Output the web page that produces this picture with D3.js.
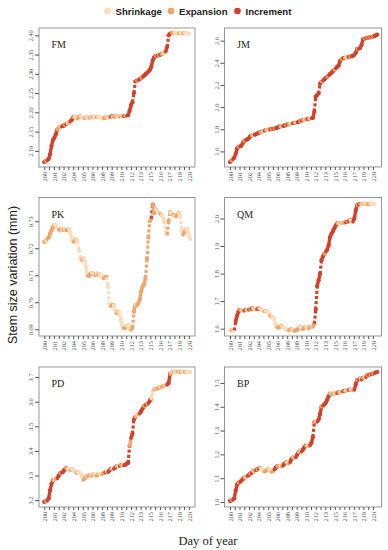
<!DOCTYPE html>
<html><head><meta charset="utf-8">
<script src="https://cdn.jsdelivr.net/npm/d3@7/dist/d3.min.js"></script>
<style>body{margin:0;background:#fff}</style>
</head><body><svg id="c" width="388" height="550"></svg>
<script>
// ---- data ----
const phaseNames = ["Shrinkage","Expansion","Increment"];
const phaseCodes = ["S","E","I"];
const tickLabels = ["200","201","202","204","205","206","208","209","210","212","213","215","216","217","219","220"];
const days = d3.range(104).map(i => 200 + i * 0.2); // sampling times (day of year)

const fmValues = [2.071,2.073,2.075,2.079,2.091,2.113,2.128,2.134,2.143,2.155,
 2.161,2.163,2.163,2.164,2.167,2.169,2.171,2.172,2.177,2.180,
 2.187,2.189,2.185,2.184,2.188,2.190,2.186,2.184,2.185,2.187,
 2.187,2.186,2.187,2.188,2.189,2.188,2.187,2.188,2.189,2.187,
 2.185,2.184,2.186,2.188,2.186,2.187,2.189,2.190,2.188,2.189,
 2.190,2.188,2.189,2.191,2.190,2.190,2.191,2.191,2.193,2.204,
 2.219,2.226,2.250,2.280,2.282,2.284,2.286,2.289,2.292,2.295,
 2.299,2.302,2.306,2.310,2.318,2.335,2.343,2.346,2.347,2.348,
 2.349,2.351,2.354,2.356,2.358,2.370,2.400,2.404,2.406,2.406,
 2.407,2.406,2.406,2.405,2.406,2.405,2.405,2.406,2.405,2.405,
 2.404];
const fmPhase = "IIEIIIIIII"+"EESIIEISEI"+"IESSEESSSE"+"SSESESSESS"+"SSEESSEISE"+"ESSESEISII"+"IIIIIEIIEI"+"IIIIIIIIEI"+"EIESEIIIIE"+"ESSSESSESSS";

const jmValues = [1.504,1.517,1.530,1.542,1.580,1.627,1.640,1.645,1.652,1.675,
 1.692,1.702,1.708,1.716,1.734,1.743,1.746,1.749,1.754,1.761,
 1.767,1.774,1.778,1.782,1.786,1.792,1.795,1.797,1.798,1.801,
 1.804,1.806,1.810,1.814,1.820,1.826,1.827,1.828,1.831,1.837,
 1.841,1.845,1.849,1.851,1.854,1.857,1.860,1.862,1.867,1.873,
 1.877,1.883,1.886,1.889,1.891,1.894,1.897,1.899,1.902,1.960,
 2.095,2.110,2.122,2.210,2.229,2.240,2.250,2.262,2.273,2.285,
 2.299,2.311,2.324,2.337,2.350,2.363,2.376,2.416,2.432,2.441,
 2.445,2.448,2.451,2.453,2.456,2.459,2.463,2.472,2.490,2.525,
 2.526,2.533,2.560,2.610,2.617,2.621,2.625,2.627,2.630,2.634,
 2.637,2.640,2.648,2.655];
const jmPhase = "IIEIIIIEII"+"IEIIIIESII"+"IIEESIESEI"+"EIEIIIESII"+"EIESEIESII"+"EIESEIESII"+"IIIIIEIIIE"+"IIIIEIIIIE"+"IESEIEIIII"+"EIIIIEIEIE"+"IEII";

const pkValues = [0.7224,0.7228,0.7234,0.7240,0.7255,0.7266,0.7278,0.7287,0.7284,0.7275,
 0.7268,0.7270,0.7273,0.7267,0.7269,0.7266,0.7268,0.7269,0.7257,0.7236,
 0.7224,0.7226,0.7232,0.7226,0.7193,0.7160,0.7157,0.7162,0.7152,0.7128,
 0.7098,0.7098,0.7104,0.7108,0.7106,0.7100,0.7106,0.7102,0.7105,0.7104,
 0.7093,0.7088,0.7092,0.7094,0.7060,0.6994,0.6986,0.6990,0.6990,0.6968,
 0.6959,0.6964,0.6962,0.6935,0.6906,0.6904,0.6906,0.6912,0.6916,0.6900,
 0.6898,0.6905,0.6965,0.6990,0.6988,0.6995,0.7010,0.7040,0.7058,0.7066,
 0.7090,0.7160,0.7240,0.7300,0.7310,0.7362,0.7330,0.7345,0.7340,0.7333,
 0.7328,0.7324,0.7318,0.7300,0.7260,0.7250,0.7300,0.7334,0.7330,0.7325,
 0.7322,0.7318,0.7322,0.7330,0.7320,0.7270,0.7250,0.7260,0.7268,0.7273,
 0.7250,0.7235];
const pkPhase = "EESEEEEESS"+"SEESESEESS"+"SEESSSSESS"+"SEEESSESES"+"SSEESSSEES"+"SESSSSEESS"+"SEEESEEEEE"+"EEEEEIEESS"+"SESSSSEESS"+"ESEESSSEES"+"SS";

const qmValues = [1.593,1.594,1.595,1.594,1.628,1.648,1.662,1.668,1.667,1.665,
 1.666,1.668,1.668,1.669,1.670,1.672,1.674,1.672,1.670,1.671,
 1.673,1.674,1.671,1.666,1.663,1.664,1.663,1.657,1.646,1.643,
 1.642,1.636,1.612,1.605,1.604,1.607,1.610,1.607,1.603,1.600,
 1.597,1.595,1.597,1.598,1.594,1.592,1.594,1.596,1.601,1.606,
 1.603,1.598,1.603,1.607,1.603,1.601,1.606,1.607,1.607,1.618,
 1.670,1.755,1.776,1.799,1.848,1.862,1.872,1.880,1.886,1.903,
 1.932,1.944,1.954,1.964,1.975,1.982,1.983,1.984,1.984,1.984,
 1.985,1.986,1.988,1.990,1.994,1.991,1.988,2.000,2.030,2.048,
 2.050,2.052,2.052,2.053,2.054,2.053,2.052,2.053,2.054,2.053,
 2.052,2.051];
const qmPhase = "SSESIIIIES"+"EIESIEISSE"+"IESSSESSSE"+"SSSSEEESSS"+"SSEESSEEEE"+"SSEESSEESE"+"IIIIIIIEII"+"IIIIIIESES"+"EEIEISSIII"+"EIESESSEES"+"SS";

const pdValues = [3.193,3.195,3.199,3.206,3.240,3.266,3.280,3.284,3.285,3.289,
 3.300,3.310,3.312,3.315,3.324,3.329,3.328,3.323,3.322,3.325,
 3.322,3.317,3.311,3.313,3.313,3.306,3.302,3.282,3.288,3.297,
 3.297,3.301,3.302,3.299,3.306,3.304,3.299,3.302,3.307,3.306,
 3.305,3.310,3.312,3.315,3.313,3.320,3.327,3.328,3.327,3.331,
 3.337,3.339,3.338,3.342,3.342,3.341,3.344,3.348,3.351,3.420,
 3.452,3.470,3.528,3.538,3.545,3.549,3.552,3.561,3.572,3.582,
 3.587,3.590,3.594,3.604,3.612,3.645,3.650,3.652,3.653,3.655,
 3.659,3.660,3.663,3.665,3.667,3.670,3.676,3.712,3.719,3.721,
 3.722,3.723,3.722,3.721,3.720,3.722,3.723,3.721,3.721,3.722,
 3.721,3.721];
const pdPhase = "IIEIIIIESE"+"IIEIIIESSE"+"SSSESSSSEE"+"SEESESSEES"+"SEEISIIESI"+"IESIESIIII"+"EIIIESEIII"+"EIEIISSESE"+"ESEESEIIES"+"ESSESESSES"+"SS";

const bpValues = [1.004,1.007,1.009,1.016,1.049,1.073,1.081,1.084,1.090,1.096,
 1.102,1.106,1.109,1.112,1.119,1.121,1.130,1.131,1.133,1.137,
 1.140,1.143,1.140,1.133,1.128,1.130,1.135,1.139,1.134,1.127,
 1.129,1.136,1.144,1.150,1.150,1.153,1.149,1.152,1.160,1.166,
 1.167,1.161,1.167,1.180,1.187,1.186,1.188,1.198,1.209,1.216,
 1.211,1.219,1.230,1.236,1.237,1.234,1.238,1.249,1.273,1.336,
 1.341,1.337,1.346,1.369,1.400,1.405,1.409,1.417,1.429,1.444,
 1.455,1.453,1.454,1.456,1.456,1.458,1.460,1.461,1.463,1.465,
 1.467,1.468,1.469,1.471,1.472,1.471,1.470,1.471,1.495,1.512,
 1.514,1.518,1.514,1.521,1.524,1.524,1.532,1.534,1.536,1.537,
 1.539,1.541,1.544,1.546];
const bpPhase = "IIEIIIIEII"+"IESIIEISEI"+"EISSSEEESS"+"EEIIEESEII"+"ESEIISEIIE"+"SIIIESEIII"+"ESIIIEIIII"+"ISEESEIESE"+"IESEISSEII"+"EISIESIEIE"+"IEII";

const fmTicks = [2.10,2.15,2.20,2.25,2.30,2.35,2.40];
const jmTicks = [1.6,1.8,2.0,2.2,2.4,2.6];
const pkTicks = [0.69,0.70,0.71,0.72,0.73];
const qmTicks = [1.6,1.7,1.8,1.9,2.0];
const pdTicks = [3.2,3.3,3.4,3.5,3.6,3.7];
const bpTicks = [1.0,1.1,1.2,1.3,1.4,1.5];

// ---- layout / style ----
const colors = {S:"#fcdcbb", E:"#f2a46c", I:"#d4402a"};
const cols = {L:[39,195], R:[224.5,381.5]};
const xDomains = {L:[199.27,220.85], R:[199.23,221.2]};
const rows = [[28,167],[197.5,336],[367,507]];
const panels = [
  {name:"FM", vals:fmValues, ph:fmPhase, dom:[2.058,2.419], ticks:fmTicks, fmt:".2f", col:"L", row:0},
  {name:"JM", vals:jmValues, ph:jmPhase, dom:[1.459,2.714], ticks:jmTicks, fmt:".1f", col:"R", row:0},
  {name:"PK", vals:pkValues, ph:pkPhase, dom:[0.6875,0.7388], ticks:pkTicks, fmt:".2f", col:"L", row:1},
  {name:"QM", vals:qmValues, ph:qmPhase, dom:[1.5735,2.076], ticks:qmTicks, fmt:".1f", col:"R", row:1},
  {name:"PD", vals:pdValues, ph:pdPhase, dom:[3.172,3.741], ticks:pdTicks, fmt:".1f", col:"L", row:2},
  {name:"BP", vals:bpValues, ph:bpPhase, dom:[0.979,1.567], ticks:bpTicks, fmt:".1f", col:"R", row:2}
];
const serif = "'Liberation Serif','Times New Roman',serif";
const sans = "'Liberation Sans',Arial,sans-serif";

const svg = d3.select("#c");
const xTickVals = d3.range(31).map(k => 200 + k * 2 / 3);

panels.forEach(p => {
  const [x0, x1] = cols[p.col], [y0, y1] = rows[p.row];
  const x = d3.scaleLinear().domain(xDomains[p.col]).range([x0, x1]);
  const y = d3.scaleLinear().domain(p.dom).range([y1, y0]);
  const g = svg.append("g");
  const pts = p.vals.map((v, i) => ({d: days[i], v, ph: p.ph[i] || "S", i}));
  const segLen = d => Math.hypot(x(d.d) - x(pts[d.i - 1].d), y(d.v) - y(pts[d.i - 1].v));
  const pg = g.append("g").selectAll("g").data(pts).join("g");
  pg.filter(d => d.i > 0).append("line")
    .attr("x1", d => x(pts[d.i - 1].d)).attr("y1", d => y(pts[d.i - 1].v))
    .attr("x2", d => x(d.d)).attr("y2", d => y(d.v))
    .attr("stroke", d => colors[d.ph])
    .attr("stroke-width", d => segLen(d) > 9 ? 3.2 : 3.4)
    .attr("stroke-dasharray", d => segLen(d) > 9 ? "3,2.2" : null)
    .attr("stroke-linecap", d => segLen(d) > 9 ? "butt" : "round");
  pg.append("circle")
    .attr("cx", d => x(d.d)).attr("cy", d => y(d.v)).attr("r", 2.1)
    .attr("fill", d => colors[d.ph]);
  g.append("rect").attr("x", x0).attr("y", y0).attr("width", x1 - x0).attr("height", y1 - y0)
    .attr("fill", "none").attr("stroke", "#8c8c8c").attr("stroke-width", 0.9);
  // y axis
  const yg = g.append("g").attr("transform", `translate(${x0},0)`).attr("color", "#555")
    .call(d3.axisLeft(y).tickValues(p.ticks).tickFormat(d3.format(p.fmt)).tickSize(4));
  yg.select(".domain").remove();
  yg.selectAll("text").attr("x", 0).attr("dy", "0.35em")
    .attr("transform", `translate(${p.col === "L" ? -8.5 : -8} ,0) rotate(-90)`)
    .attr("text-anchor", "middle").style("font-family", serif).style("font-size", "6.3px");
  // x axis
  const xg = g.append("g").attr("transform", `translate(0,${y1})`).attr("color", "#555")
    .call(d3.axisBottom(x).tickValues(xTickVals).tickSize(3)
      .tickFormat((d, i) => i % 2 === 0 ? tickLabels[i / 2] : ""));
  xg.select(".domain").remove();
  xg.selectAll("text").attr("y", 0).attr("x", 0).attr("dy", "0.35em")
    .attr("transform", "translate(0,5) rotate(-90)")
    .attr("text-anchor", "end").style("font-family", serif).style("font-size", "6.3px");
  // panel name
  g.append("text").attr("x", x0 + 12.5).attr("y", y0 + 20.3).text(p.name)
    .style("font-family", serif).style("font-size", "10px").attr("fill", "#222");
});

// legend
const legendX = [107.5, 171, 237.5];
phaseCodes.forEach((c, i) => {
  svg.append("circle").attr("cx", legendX[i]).attr("cy", 11).attr("r", 3.3).attr("fill", colors[c]);
  svg.append("text").attr("x", legendX[i] + 8).attr("y", 14.5).text(phaseNames[i])
    .style("font-family", sans).style("font-weight", "bold").style("font-size", "9.6px").attr("fill", "#222");
});

// axis titles
svg.append("text").attr("transform", "translate(13,275) rotate(-90)").attr("text-anchor", "middle")
  .attr("dy", "0.35em").text("Stem size variation (mm)")
  .style("font-family", sans).style("font-size", "12.5px").attr("fill", "#222");
svg.append("text").attr("x", 208).attr("y", 545).attr("text-anchor", "middle").text("Day of year")
  .style("font-family", serif).style("font-size", "12.5px").attr("fill", "#222");
</script></body></html>
